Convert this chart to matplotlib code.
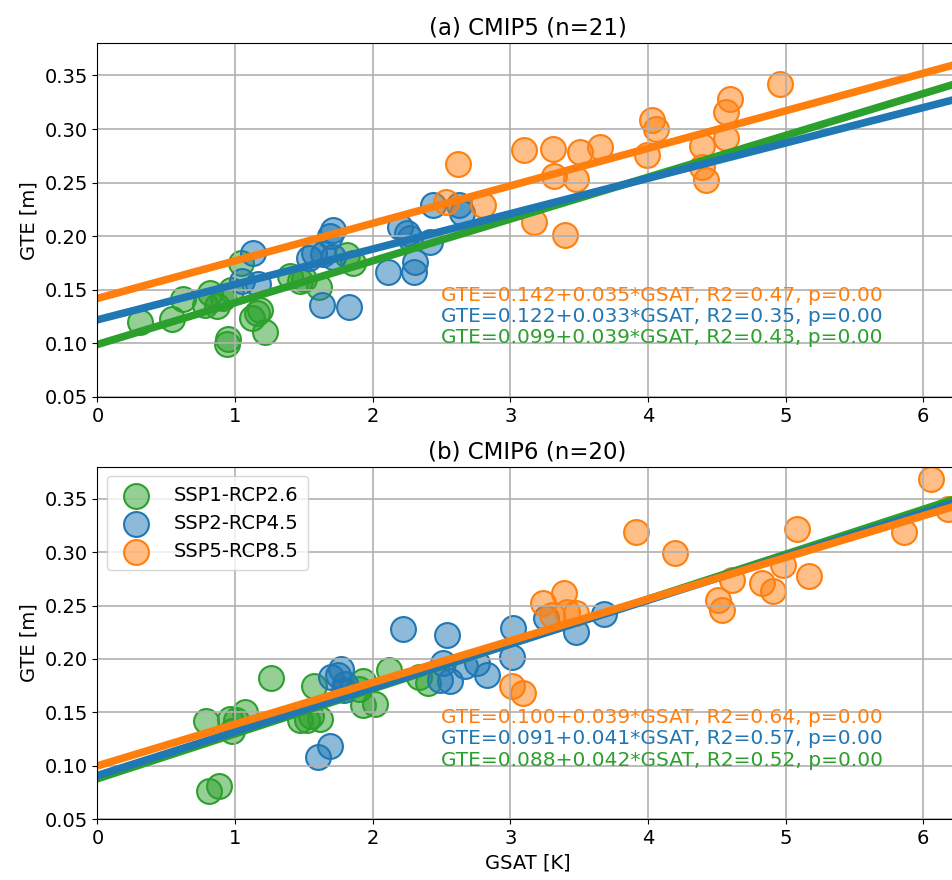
import numpy as np
import matplotlib
matplotlib.use("Agg")
import matplotlib.pyplot as plt
from matplotlib.colors import to_rgba

plt.rcParams['font.size'] = 14

# scenario names and colours
scenarios = ['SSP1-RCP2.6', 'SSP2-RCP4.5', 'SSP5-RCP8.5']
colors = ['tab:green', 'tab:blue', 'tab:orange']
titles = ['(a) CMIP5 (n=21)', '(b) CMIP6 (n=20)']

# (a) CMIP5 - GSAT [K] / GTE [m]
cmip5_low_x = [0.31, 0.54, 0.62, 0.78, 0.82, 0.87, 0.91, 0.94, 0.95, 1.04, 1.12,
               1.16, 1.22, 1.40, 1.47, 1.61, 1.81, 1.86, 0.97, 1.18, 1.50]
cmip5_low_y = [0.120, 0.123, 0.141, 0.136, 0.147, 0.135, 0.142, 0.099, 0.104, 0.175, 0.124,
               0.128, 0.111, 0.163, 0.158, 0.153, 0.182, 0.175, 0.150, 0.131, 0.160]
cmip5_mid_x = [1.05, 1.13, 1.17, 1.54, 1.57, 1.63, 1.64, 1.69, 1.71, 1.71, 1.83,
               2.11, 2.20, 2.25, 2.27, 2.30, 2.31, 2.42, 2.44, 2.63, 2.65]
cmip5_mid_y = [0.158, 0.184, 0.155, 0.180, 0.184, 0.136, 0.183, 0.200, 0.206, 0.181, 0.134,
               0.167, 0.209, 0.203, 0.198, 0.167, 0.176, 0.195, 0.229, 0.229, 0.222]
cmip5_high_x = [2.53, 2.62, 2.80, 3.10, 3.17, 3.31, 3.32, 3.40, 3.48, 3.51, 3.65,
                3.99, 4.03, 4.06, 4.39, 4.39, 4.42, 4.57, 4.57, 4.60, 4.96]
cmip5_high_y = [0.232, 0.267, 0.229, 0.280, 0.213, 0.281, 0.256, 0.201, 0.253, 0.279, 0.283,
                0.276, 0.308, 0.300, 0.284, 0.265, 0.252, 0.316, 0.292, 0.328, 0.342]

# (b) CMIP6
cmip6_low_x = [0.81, 0.88, 0.79, 0.96, 0.98, 1.01, 1.07, 1.26, 1.47, 1.52,
               1.55, 1.62, 1.57, 1.90, 1.93, 1.93, 2.02, 2.12, 2.34, 2.40]
cmip6_low_y = [0.076, 0.081, 0.142, 0.144, 0.133, 0.143, 0.150, 0.182, 0.143, 0.143,
               0.147, 0.144, 0.175, 0.172, 0.179, 0.157, 0.158, 0.190, 0.183, 0.178]
cmip6_mid_x = [1.60, 1.69, 1.70, 1.75, 1.77, 1.79, 1.80, 2.22, 2.49, 2.51,
               2.54, 2.56, 2.67, 2.76, 2.83, 3.01, 3.02, 3.26, 3.48, 3.68]
cmip6_mid_y = [0.108, 0.119, 0.183, 0.185, 0.191, 0.171, 0.177, 0.228, 0.180, 0.196,
               0.222, 0.179, 0.193, 0.196, 0.185, 0.202, 0.229, 0.238, 0.225, 0.242]
cmip6_high_x = [3.01, 3.09, 3.24, 3.30, 3.39, 3.41, 3.48, 3.91, 4.20, 4.51,
                4.54, 4.61, 4.83, 4.91, 4.98, 5.08, 5.17, 5.86, 6.06, 6.18]
cmip6_high_y = [0.175, 0.168, 0.252, 0.241, 0.262, 0.244, 0.243, 0.319, 0.299, 0.255,
                0.246, 0.274, 0.271, 0.264, 0.288, 0.322, 0.278, 0.319, 0.368, 0.340]

# regression results (intercept, slope, R2, p) per scenario: low, mid, high
cmip5_intercept = [0.099, 0.122, 0.142]
cmip5_slope = [0.039, 0.033, 0.035]
cmip5_r2 = [0.43, 0.35, 0.47]
cmip5_p = [0.00, 0.00, 0.00]
cmip6_intercept = [0.088, 0.091, 0.100]
cmip6_slope = [0.042, 0.041, 0.039]
cmip6_r2 = [0.52, 0.57, 0.64]
cmip6_p = [0.00, 0.00, 0.00]

panels = [
    ([cmip5_low_x, cmip5_mid_x, cmip5_high_x], [cmip5_low_y, cmip5_mid_y, cmip5_high_y],
     cmip5_intercept, cmip5_slope, cmip5_r2, cmip5_p),
    ([cmip6_low_x, cmip6_mid_x, cmip6_high_x], [cmip6_low_y, cmip6_mid_y, cmip6_high_y],
     cmip6_intercept, cmip6_slope, cmip6_r2, cmip6_p),
]

fig = plt.figure(figsize=(9.52, 8.8), dpi=100)
ax_top = fig.add_axes([0.1024, 0.5489, 0.9034, 0.4019])
ax_bot = fig.add_axes([0.1024, 0.0690, 0.9034, 0.4007])

text_y = [0.10, 0.12, 0.14]

for ax, title, (xs, ys, a, b, r2, p) in zip([ax_top, ax_bot], titles, panels):
    ax.set_xlim(0, 6.25)
    ax.set_ylim(0.05, 0.38)
    xx = np.array(ax.get_xlim())
    for i in range(3):
        ax.scatter(xs[i], ys[i], s=320, facecolor=to_rgba(colors[i], 0.5),
                   edgecolors=colors[i], linewidths=1.5, label=scenarios[i])
    for i in range(3):
        ax.plot(xx, a[i] + b[i] * xx, color=colors[i], lw=5.5)
    # equations, top one is the high scenario
    for i in range(3):
        ax.text(2.5, text_y[i],
                'GTE=%.3f+%.3f*GSAT, R2=%.2f, p=%.2f' % (a[i], b[i], r2[i], p[i]),
                color=colors[i], fontsize=14.5)
    ax.set_xticks(range(7))
    ax.set_yticks(np.arange(0.05, 0.36, 0.05))
    ax.grid(True, lw=1.2)
    ax.set_ylabel('GTE [m]')
    ax.set_title(title, fontsize=16.5)

ax_bot.set_xlabel('GSAT [K]')
ax_bot.legend(loc='upper left', borderpad=0.5, handletextpad=0.9, labelspacing=0.45)

fig.savefig('out.png', dpi=100)
